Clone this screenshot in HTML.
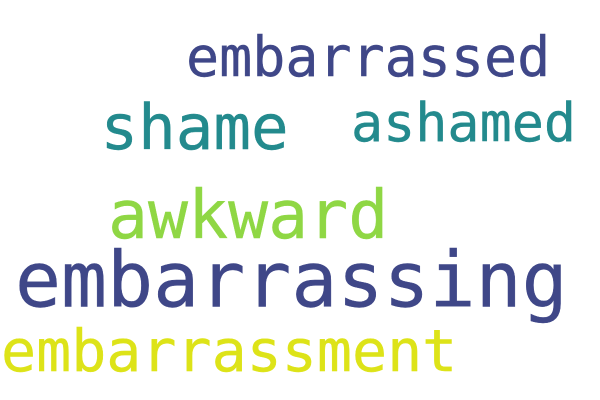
<!DOCTYPE html>
<html>
<head>
<meta charset="utf-8">
<style>
html,body{margin:0;padding:0;background:#fff;}
svg{display:block;}
text{font-family:"DejaVu Sans Mono","Liberation Mono",monospace;stroke-width:0.4;}
</style>
</head>
<body>
<svg width="600" height="400" viewBox="0 0 600 400">
<rect width="600" height="400" fill="#fff"/>
<text x="186" y="76" font-size="55" fill="#3f4788" stroke="#3f4788">embarrassed</text>
<text x="100.5" y="149" font-size="62.5" fill="#238a8d" stroke="#238a8d">shame</text>
<text x="351" y="141" font-size="53.4" fill="#238a8d" stroke="#238a8d">ashamed</text>
<text x="108" y="238" font-size="66.5" fill="#8fd744" stroke="#8fd744">awkward</text>
<text x="15" y="306.5" font-size="76.5" fill="#3f4788" stroke="#3f4788">embarrassing</text>
<text x="1" y="371" font-size="58.3" fill="#dde318" stroke="#dde318">embarrassment</text>
</svg>
</body>
</html>
